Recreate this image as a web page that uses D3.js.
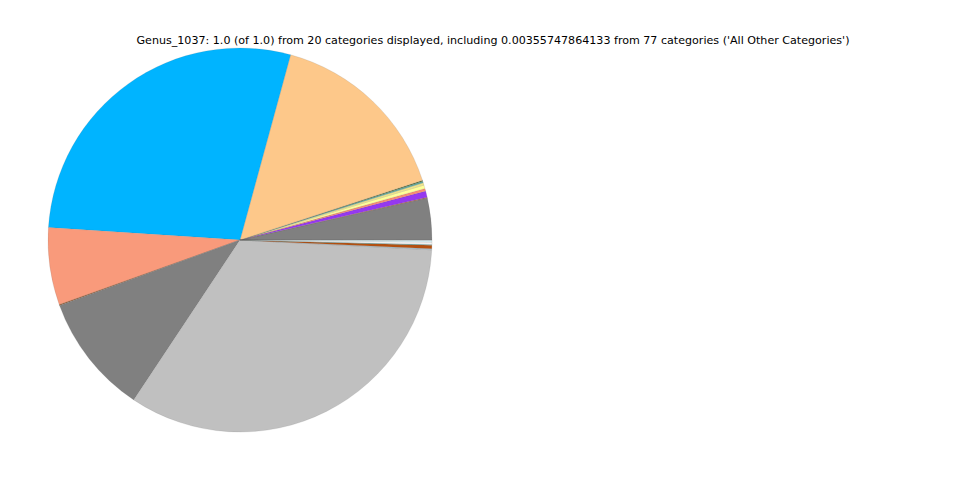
<!DOCTYPE html>
<html>
<head>
<meta charset="utf-8">
<script src="https://cdn.jsdelivr.net/npm/d3@7/dist/d3.min.js"></script>
<style>
html,body{margin:0;padding:0;background:#fff;}
</style>
</head>
<body>
<div id="chart"></div>
<script>
const titleText = "Genus_1037: 1.0 (of 1.0) from 20 categories displayed, including 0.00355747864133 from 77 categories ('All Other Categories')";
const categories = ["Cat 1","Cat 2","All Other Categories","Cat 4","Cat 5","Cat 6","Cat 7","Cat 8","Cat 9","Cat 10",
  "Cat 11","Cat 12","Cat 13","Cat 14","Cat 15","Cat 16","Cat 17","Cat 18","Cat 19","Cat 20"];
const values = [0.0350,0.0008,0.0052,0.0022,0.0030,0.0019,0.0014,0.0008,0.1571,0.2819,
  0.0650,0.0008,0.1011,0.3350,0.0008,0.0030,0.0006,0.0020,0.0014,0.0003];
const colors = ["#808080","#a0522d","#9538f0","#fa8a72","#ffff99","#f0e68c","#5fa9a0","#556b2f","#fdc88a","#00b4ff",
  "#f99a7b","#8b4513","#808080","#c0c0c0","#a8c8d8","#b5500f","#5fa9a0","#f4f4f4","#d8f4f8","#e0e0e0"];

const W = 960, H = 480;
const cx = 240, cy = 240, R = 192;

const svg = d3.select("#chart").append("svg").attr("width", W).attr("height", H);

svg.append("text")
  .attr("x", 493).attr("y", 43.5)
  .attr("text-anchor", "middle")
  .style("font-family", "DejaVu Sans")
  .style("font-size", "11.1px")
  .text(titleText);

const data = categories.map((c, i) => ({name: c, value: values[i], color: colors[i]}));
const pie = d3.pie().value(d => d.value).sort(null)
  .startAngle(Math.PI / 2).endAngle(Math.PI / 2 - 2 * Math.PI);
const arc = d3.arc().innerRadius(0).outerRadius(R);

svg.append("g").attr("transform", `translate(${cx},${cy})`)
  .selectAll("path").data(pie(data)).enter().append("path")
  .attr("d", arc)
  .attr("fill", d => d.data.color)
  .attr("stroke", "#666")
  .attr("stroke-opacity", 0.35)
  .attr("stroke-width", 0.4);
</script>
</body>
</html>
